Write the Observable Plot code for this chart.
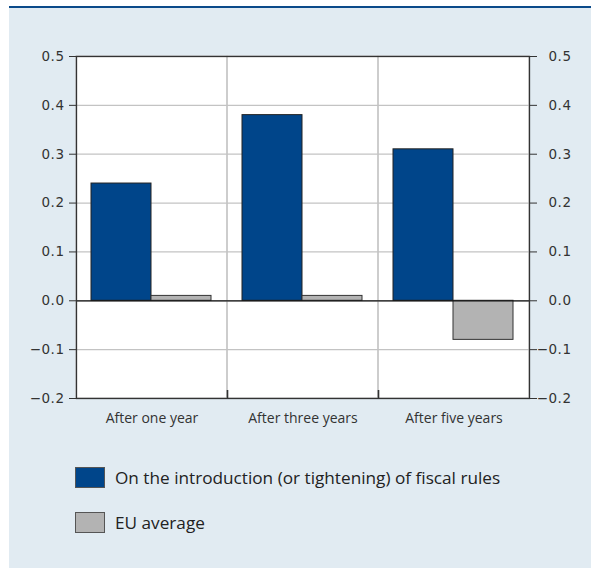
<!DOCTYPE html>
<html>
<head>
<meta charset="utf-8">
<script src="https://cdn.jsdelivr.net/npm/d3@7"></script>
<script src="https://cdn.jsdelivr.net/npm/@observablehq/plot@0.6"></script>
<style>
  html, body { margin: 0; padding: 0; background: #ffffff; }
  #panel {
    position: absolute; left: 9px; top: 6px; width: 582px; height: 560px;
    background: #e1ebf2; border-top: 2px solid #0b4a8a;
    font-family: "Open Sans", "Noto Sans", sans-serif; color: #222;
  }
  #chart svg { display: block; }
  #chart svg text { font-size: 14px; fill: #333; }
  #chart svg g[aria-label="y-axis tick label"] text { font-family: "DejaVu Sans", sans-serif; font-size: 13.5px; letter-spacing: 0.5px; }
  .legend { position: absolute; left: 66px; }
  .legend .item { display: flex; align-items: center; height: 21px; margin-bottom: 24px; font-size: 17.2px; }
  .legend .sw { width: 28px; height: 19px; border: 1px solid #555; margin-right: 10px; }
</style>
</head>
<body>
<div id="panel">
  <div id="chart"></div>
  <div class="legend" id="legend" style="top:459px"></div>
</div>
<script>
const categories = ["After one year", "After three years", "After five years"];
const seriesNames = ["On the introduction (or tightening) of fiscal rules", "EU average"];
const fiscalRules = [0.24, 0.38, 0.31];
const euAverage = [0.01, 0.01, -0.08];
const yTicks = [-0.2, -0.1, 0.0, 0.1, 0.2, 0.3, 0.4, 0.5];
const colors = ["#00458a", "#b3b3b3"];

const yDomain = [d3.min(yTicks), d3.max(yTicks)];
const rowsA = categories.map((c, i) => ({category: c, value: fiscalRules[i]}));
const rowsB = categories.map((c, i) => ({category: c, value: euAverage[i]}));
const fmt = d3.format(".1f");

const W = 582, H = 425, mT = 48, mL = 67, mR = 62, mB = 35;
const bandW = (W - mL - mR) / categories.length;
const plotH = H - mT - mB;
const innerTick = 8 * (yDomain[1] - yDomain[0]) / plotH;

const chart = Plot.plot({
  width: W,
  height: H,
  marginTop: mT,
  marginLeft: mL,
  marginRight: mR,
  marginBottom: mB,
  style: {fontFamily: "'Open Sans', 'Noto Sans', sans-serif", fontSize: "14px", color: "#333", background: "transparent"},
  x: {domain: categories, paddingInner: 0, paddingOuter: 0, label: null},
  y: {domain: yDomain, label: null},
  marks: [
    Plot.frame({fill: "white", stroke: "none"}),
    Plot.ruleY(yTicks, {stroke: "#c3c3c3", strokeWidth: 1.2}),
    Plot.barY(categories, {x: d => d, y1: yDomain[0], y2: yDomain[1], fill: "none", stroke: "#c3c3c3", strokeWidth: 1.2}),
    Plot.ruleX(categories.slice(1), {x: d => d, y1: () => yDomain[0], y2: () => yDomain[0] + innerTick, dx: -bandW / 2, stroke: "#333", strokeWidth: 1.6}),
    Plot.barY(rowsA, {x: "category", y: "value", fill: colors[0], stroke: "#222", strokeWidth: 1, insetLeft: 15, insetRight: 76}),
    Plot.barY(rowsB, {x: "category", y: "value", fill: colors[1], stroke: "#333", strokeWidth: 1, insetLeft: 75, insetRight: 16}),
    Plot.ruleY([0], {stroke: "#111", strokeWidth: 1.2}),
    Plot.frame({stroke: "#333", strokeWidth: 1.3}),
    Plot.axisY({anchor: "left", ticks: yTicks, tickFormat: fmt, tickSize: 7, tickPadding: 5, stroke: "#333"}),
    Plot.axisY({anchor: "right", ticks: yTicks, tickFormat: fmt, tickSize: 7, tickPadding: 35, textAnchor: "end", stroke: "#333"}),
    Plot.axisX({anchor: "bottom", tickSize: 0, tickPadding: 15})
  ]
});
document.getElementById("chart").appendChild(chart);

const legend = document.getElementById("legend");
seriesNames.forEach((name, i) => {
  const item = document.createElement("div");
  item.className = "item";
  const sw = document.createElement("span");
  sw.className = "sw";
  sw.style.background = colors[i];
  const label = document.createElement("span");
  label.textContent = name;
  item.appendChild(sw);
  item.appendChild(label);
  legend.appendChild(item);
});
</script>
</body>
</html>
